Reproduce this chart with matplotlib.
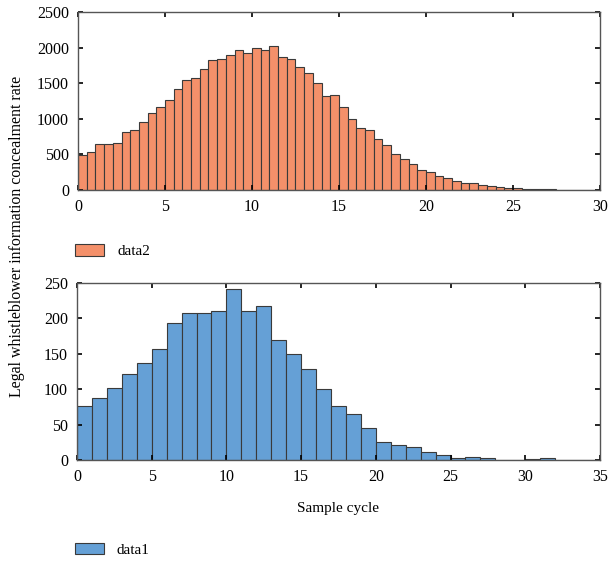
import matplotlib
matplotlib.use('Agg')
import matplotlib.pyplot as plt
import numpy as np

# data2: 0.5-wide bins from 0 to 30
data2_edges = np.arange(0, 30.5, 0.5)
data2_counts = [496, 529, 641, 645, 665, 815, 838, 950, 1077, 1170,
                1264, 1414, 1550, 1578, 1695, 1821, 1835, 1892, 1962, 1920,
                2000, 1962, 2018, 1863, 1835, 1723, 1643, 1508, 1316, 1330,
                1166, 1002, 871, 847, 712, 637, 506, 440, 370, 276,
                253, 192, 173, 126, 103, 94, 66, 51, 42, 33,
                28, 19, 14, 9, 9, 5, 3, 3, 2, 0]

# data1: 1-wide bins from 0 to 35
data1_edges = np.arange(0, 36, 1)
data1_counts = [77, 88, 102, 122, 137, 157, 193, 208, 208, 210,
                242, 210, 217, 170, 150, 129, 100, 76, 65, 45,
                26, 21, 18, 11, 6.6, 2.5, 4, 3, 0, 0,
                1, 2.5, 0, 0, 0]

orange = '#F4906A'
blue = '#65A0D6'

plt.rcParams['font.family'] = ['Liberation Serif', 'DejaVu Serif']
plt.rcParams['font.size'] = 11

fig = plt.figure(figsize=(6.08, 5.63), dpi=100)
ax1 = fig.add_axes([0.1283, 0.6625, 0.8585, 0.3162])
ax2 = fig.add_axes([0.1266, 0.1829, 0.8602, 0.3144])


def style_axes(ax, xlim, ylim, yticks):
    ax.set_xlim(*xlim)
    ax.set_ylim(*ylim)
    ax.set_yticks(yticks)
    ax.tick_params(direction='in', top=True, right=True, length=3.5,
                   width=1.2, colors='black', labelsize=11.5, pad=6.5)
    for s in ax.spines.values():
        s.set_color('#555555')
        s.set_linewidth(1.0)


ax1.hist(data2_edges[:-1], bins=data2_edges, weights=data2_counts,
         color=orange, edgecolor='#3a3a3a', linewidth=0.8, label='data2')
style_axes(ax1, (0, 30), (0, 2500), np.arange(0, 2501, 500))
ax1.set_xticks(np.arange(0, 31, 5))

ax2.hist(data1_edges[:-1], bins=data1_edges, weights=data1_counts,
         color=blue, edgecolor='#3a3a3a', linewidth=0.8, label='data1')
style_axes(ax2, (0, 35), (0, 250), np.arange(0, 251, 50))
ax2.set_xticks(np.arange(0, 36, 5))
ax2.set_xlabel('Sample cycle', fontsize=11, labelpad=12)

leg_kw = dict(frameon=False, loc='center left', handlelength=1.9,
              handleheight=0.78, handletextpad=0.85, borderpad=0,
              borderaxespad=0, fontsize=11)
ax1.legend(bbox_to_anchor=(-0.005, -0.343), **leg_kw)
ax2.legend(bbox_to_anchor=(-0.004, -0.506), **leg_kw)

fig.text(0.028, 0.581, 'Legal whistleblower information concealment rate',
         rotation=90, va='center', ha='center', fontsize=11.4)

fig.savefig('out.png', dpi=100)
plt.close(fig)
